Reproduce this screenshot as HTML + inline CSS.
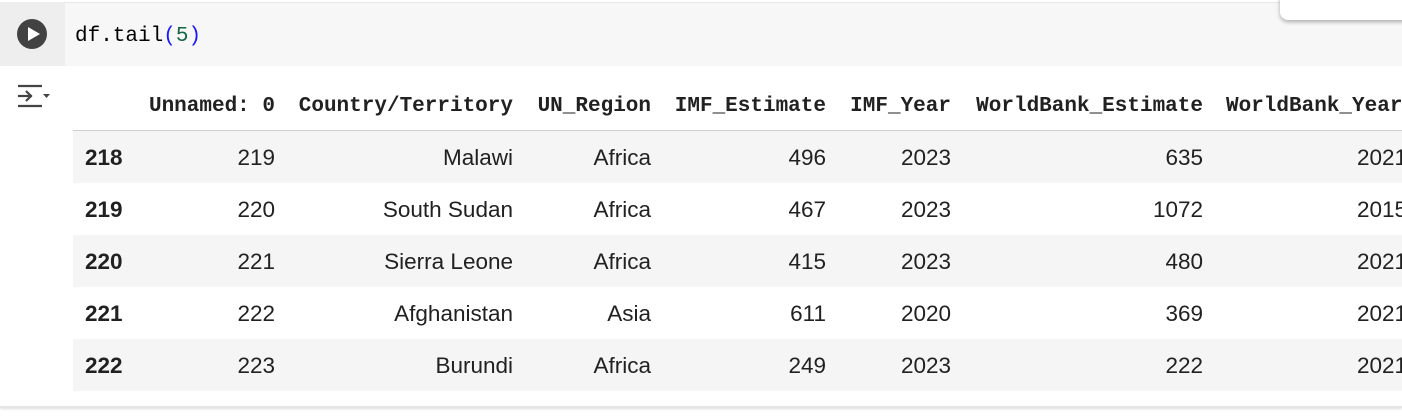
<!DOCTYPE html>
<html><head><meta charset="utf-8"><style>
body{margin:0;width:1402px;height:416px;overflow:hidden;background:#fff;position:relative;font-family:"Liberation Sans",sans-serif;color:#212121}
.abs{position:absolute}
.code{left:0;top:2px;width:1402px;height:63px;background:#f7f7f7;border-top:1px solid #e6e6e6}
.gut{left:0;top:2px;width:65px;height:64px;background:#eeeeee}
.run{left:17px;top:19px;width:30px;height:30px;border-radius:50%;background:#424242}
.run:after{content:"";position:absolute;left:11px;top:8px;border-left:12px solid #fff;border-top:7px solid transparent;border-bottom:7px solid transparent}
.src{left:75px;top:25px;font:21px "Liberation Mono",monospace;color:#000}
.tb{left:1280px;top:-10px;width:140px;height:30px;background:#fff;border-radius:8px;box-shadow:0 2px 4px rgba(0,0,0,.3)}
.row{left:73px;width:1329px;height:52px}
.g{background:#f5f5f5}
.c{position:absolute;font-size:22.5px;top:14px;white-space:nowrap}
.h{position:absolute;top:95px;font:bold 21px "Liberation Mono",monospace;white-space:nowrap}
.idx{font-weight:bold;left:12px}
.bottom{left:0;top:406px;width:1402px;height:2px;background:#e4e4e4;box-shadow:0 1px 2px rgba(0,0,0,.15)}
</style></head><body>
<div class="abs code"></div>
<div class="abs gut"></div>
<div class="abs run"></div>
<div class="abs src">df.tail<span style="color:#1a1aff">(</span><span style="color:#116644">5</span><span style="color:#1a1aff">)</span></div>
<div class="abs tb"></div>
<svg class="abs" style="left:16px;top:84px" width="36" height="26">
<path d="M2 2h24M2 12h14M2 22h24M10 7l5 5-5 5" stroke="#444" stroke-width="2.2" fill="none"/><path d="M27 10h7l-3.5 4z" fill="#444"/></svg>
<div>
<div class="h" style="right:1127px">Unnamed: 0</div>
<div class="h" style="right:889px">Country/Territory</div>
<div class="h" style="right:751px">UN_Region</div>
<div class="h" style="right:576px">IMF_Estimate</div>
<div class="h" style="right:451px">IMF_Year</div>
<div class="h" style="right:199px">WorldBank_Estimate</div>
<div class="h" style="left:1226px">WorldBank_Year</div>
<div class="abs" style="left:73px;top:130px;width:1329px;height:1px;background:#d0d0d0"></div>
</div>
<div id="rows"></div>
<div class="abs bottom"></div>
<script>
const idx=["218","219","220","221","222"];
const unnamed=["219","220","221","222","223"];
const country=["Malawi","South Sudan","Sierra Leone","Afghanistan","Burundi"];
const region=["Africa","Africa","Africa","Asia","Africa"];
const imfEst=["496","467","415","611","249"];
const imfYear=["2023","2023","2023","2020","2023"];
const wbEst=["635","1072","480","369","222"];
const wbYear=["2021","2015","2021","2021","2021"];
const rights=[275,513,651,826,951,1203,1400];
const host=document.getElementById('rows');
for(let i=0;i<idx.length;i++){
  const r=document.createElement('div');
  r.className='abs row'+(i%2===0?' g':'');
  r.style.top=(131+i*52)+'px';
  
  
  const vals=[unnamed[i],country[i],region[i],imfEst[i],imfYear[i],wbEst[i],wbYear[i]];
  const ix=document.createElement('div');
  ix.className='c idx';ix.textContent=idx[i];
  
  
  r.appendChild(ix);
  vals.forEach((v,j)=>{
    const c=document.createElement('div');
    c.className='c';c.textContent=v;
    c.style.right=(1402-rights[j])+'px';
    if(j===6){c.style.right='auto';c.style.left=(1402-73-45)+'px';}
    
    
    r.appendChild(c);
  });
  host.appendChild(r);
}
</script>
</body></html>
